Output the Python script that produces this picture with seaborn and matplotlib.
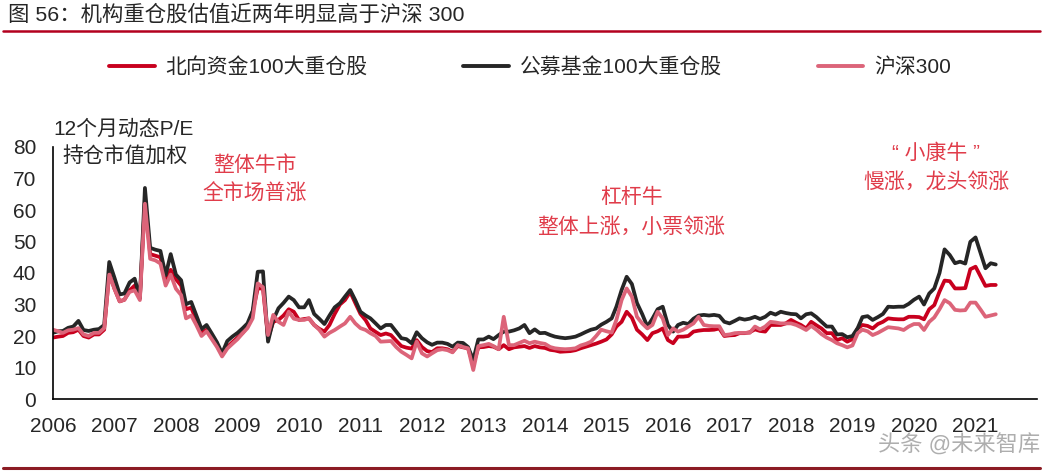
import pandas as pd
import seaborn as sns
import matplotlib.pyplot as plt
from matplotlib.lines import Line2D

sns.set_style('white')
plt.rcParams['font.family'] = ['Liberation Sans', 'Noto Sans CJK SC']

W, H = 1055, 473

# monthly 12m forward P/E, 2006-01 .. 2021-05
months = pd.date_range('2006-01-01', periods=185, freq='MS')

north = (  # 北向资金100大重仓股
    [19.5, 19.8, 20, 21, 21.2, 22, 20, 19.5, 20.5, 20.5, 22, 40]
    + [35, 31, 31.5, 34.5, 36, 32, 63.5, 46, 45.5, 45, 38, 41]
    + [38, 36, 28.5, 29, 25, 21, 22, 19.5, 17, 14, 16.5, 18]
    + [19.5, 21, 23, 27.7, 35.1, 35.1, 19.3, 24.5, 25.1, 26.5, 28.5, 27.7]
    + [25.1, 25.4, 25.6, 23.5, 22.3, 21.4, 23.5, 27, 30, 31.4, 34, 30.5]
    + [27, 25, 22.4, 21.3, 20.3, 20.8, 20.3, 18.5, 16.8, 16.3, 16, 18.7]
    + [16.5, 15.2, 14.9, 16.1, 16.1, 15.8, 15, 16.8, 16.4, 16.1, 11, 16.4]
    + [16.5, 16.8, 16.6, 15.8, 17.1, 15.8, 16.4, 16.6, 16.8, 16.2, 16.8, 16.4]
    + [16.2, 15.6, 15.4, 15, 15.1, 15.2, 15.5, 16.1, 16.6, 17.1, 17.6, 18.2]
    + [18.9, 20.5, 23, 24.5, 27.7, 25.8, 22, 20.5, 18.7, 20.9, 21.5, 22.4]
    + [18.7, 17.7, 19.8, 19.8, 20, 21.4, 21.7, 21.9, 21.9, 22, 22.4, 20]
    + [20.2, 20.3, 20.9, 20.9, 21.2, 22.1, 21.6, 21.4, 23.5, 23.5, 23.5, 24]
    + [25.1, 24.2, 23.5, 22.4, 24.5, 23.4, 22.4, 20.9, 20.9, 18.7, 19.3, 18.2]
    + [19, 22.4, 23.5, 23.2, 22.4, 23.8, 24.5, 25.6, 25.4, 25.3, 25.3, 26.1]
    + [26.1, 26, 25.3, 28.5, 29.8, 34.1, 37.6, 37.4, 35.1, 35.1, 35.2, 41.2]
    + [42, 38.8, 35.9, 36.2, 36.2]
)

fund = (  # 公募基金100大重仓股
    [21, 21.5, 21.6, 22.6, 23, 24.8, 21.9, 21.6, 22, 22.2, 23.5, 43.5]
    + [38.5, 33.2, 33.5, 37, 38.2, 32, 67, 48, 47.4, 47, 39.3, 46]
    + [39.5, 37.7, 30.1, 30.8, 26.6, 22.2, 23.5, 20.8, 18, 14.5, 18.4, 19.8]
    + [21, 22.5, 24, 28, 40.4, 40.5, 18.2, 25.1, 28.8, 30.5, 32.5, 31.4]
    + [29.1, 29.1, 31.4, 27, 25.5, 23.8, 26.5, 29.1, 30.4, 32.5, 34.6, 31.4]
    + [27.7, 26.5, 25.6, 24, 22.4, 23.5, 23.5, 21.4, 19.3, 19, 17.7, 21.2]
    + [19.3, 18, 17.2, 17.9, 17.9, 17.5, 16.6, 17.9, 17.8, 16.5, 12.4, 18.9]
    + [18.9, 19.8, 19, 20.3, 21.4, 21.4, 21.8, 22.4, 23.5, 20.9, 22.1, 20.9]
    + [21, 20.3, 19.8, 19.5, 19.3, 19.5, 19.8, 20.5, 21.3, 22, 22.4, 23.6]
    + [24.5, 25.6, 29.3, 34.6, 38.8, 36.5, 30.5, 27, 23, 25.5, 28.5, 29.3]
    + [23.5, 21.4, 23.5, 24.2, 23.8, 25.5, 26.5, 26.7, 26.5, 26.7, 26.4, 24.5]
    + [24, 24.8, 25.6, 25.2, 25.5, 26.1, 25.4, 26.1, 27.4, 26.8, 27.7, 27.3]
    + [27, 26.9, 25.6, 26.9, 27.2, 26, 24.5, 23, 23, 20.5, 20.6, 19.6]
    + [20, 22.5, 26, 26.3, 25.1, 26, 27, 29.3, 29.2, 29.3, 29.3, 30.2]
    + [31.5, 32.5, 30, 33.5, 35.1, 40, 47.5, 45.7, 43.1, 43.6, 43, 49.9]
    + [51.3, 46.2, 41.5, 43.1, 42.7]
)

hs300 = (  # 沪深300
    [22, 21.5, 21, 21.8, 22, 22.5, 20.5, 20, 21, 21, 22.5, 39.5]
    + [35, 31, 31.5, 34, 34.5, 31.4, 62, 44.5, 44, 43, 36, 39.5]
    + [35, 33, 25.6, 26.5, 23.5, 20, 21.5, 19, 16.5, 13.5, 16, 17.5]
    + [19, 20.9, 22.5, 25.6, 36.7, 35.5, 20.3, 26.7, 24.5, 23.5, 27.7, 25.5]
    + [25.1, 25.1, 25.6, 23.5, 22, 19.8, 21, 21.9, 23, 24, 26.1, 24]
    + [22.5, 21.9, 20.9, 20, 18.2, 18.3, 18.4, 16.5, 15, 14, 12.9, 18.2]
    + [14.5, 13.5, 14.5, 15.5, 15.8, 15.5, 14.8, 17.1, 16.5, 16.1, 9.2, 16.8]
    + [17.1, 17.5, 16.8, 15.8, 26.1, 17.1, 17.1, 17.8, 18.5, 17.7, 18.2, 17.8]
    + [17.5, 16.5, 16.1, 15.9, 15.8, 15.9, 16.1, 17, 17.5, 18.2, 20, 22]
    + [21.5, 21.1, 25.1, 31.4, 35.1, 32.5, 26.1, 24, 22.4, 23.5, 27.7, 25.6]
    + [20.3, 22.4, 21.4, 22, 23, 24, 26.1, 23.5, 23.2, 23.1, 23.1, 20.3]
    + [20.5, 20.9, 21, 21, 21, 23, 22.1, 23, 24.5, 24.3, 24, 24]
    + [24, 23.5, 22.8, 21.9, 23.2, 22, 20.6, 19.5, 18.7, 17.7, 17.1, 16.4]
    + [17, 20.9, 22, 21.5, 20.3, 21, 21.9, 22.8, 22.6, 22.4, 21.9, 23]
    + [23.8, 23.8, 21.9, 24.5, 25.9, 28.5, 31.4, 30.4, 28.3, 28.1, 28.2, 30.6]
    + [30.6, 28.3, 26.1, 26.5, 26.9]
)

names = ['北向资金100大重仓股', '公募基金100大重仓股', '沪深300']
colors = ['#C8001E', '#262626', '#DC6479']
years = list(range(2006, 2022))

df = pd.DataFrame({'date': months, names[0]: north, names[1]: fund, names[2]: hs300})
long = df.melt(id_vars='date', var_name='series', value_name='pe')

fig = plt.figure(figsize=(W / 100, H / 100), dpi=100)
ax = fig.add_axes([53 / W, 1 - 399 / H, (1037 - 53) / W, (399 - 147) / H])

sns.lineplot(data=long, x='date', y='pe', hue='series', hue_order=names,
             palette=colors, linewidth=2.7, ax=ax, legend=False)

ax.set_xlim(pd.Timestamp('2006-01-01'), pd.Timestamp('2022-01-01'))
ax.set_ylim(0, 80)
ax.set_yticks(range(0, 81, 10))
ax.set_xticks([pd.Timestamp(f'{y}-01-01') for y in years])
ax.set_xticklabels([str(y) for y in years])
ax.set_xlabel('')
ax.set_ylabel('')
ax.tick_params(axis='x', direction='in', length=6, width=1, pad=13, labelsize=15)
ax.tick_params(axis='y', direction='in', length=5, width=1, pad=12, labelsize=15)
for s in ['top', 'right']:
    ax.spines[s].set_visible(False)
for s in ['left', 'bottom']:
    ax.spines[s].set_color('black')
    ax.spines[s].set_linewidth(1.2)

# legend
handles = [Line2D([], [], color=c, lw=2.8) for c in colors]
fig.legend(handles, names, loc='center', bbox_to_anchor=(530 / W, 1 - 67 / H),
           ncol=3, frameon=False, fontsize=15, handlelength=2.2,
           handletextpad=0.5, columnspacing=4.6)


def ftext(x, y, s, **kw):
    fig.text(x / W, 1 - y / H, s, **kw)


# title + rules
ftext(8, 15, '图 56：机构重仓股估值近两年明显高于沪深 300', fontsize=15.4, va='center')
fig.add_artist(Line2D([0.003, 1040 / W], [1 - 31 / H] * 2, color='#B3001E', lw=1.8))
fig.add_artist(Line2D([0.003, 1040 / W], [1 - 468 / H] * 2, color='#8C1C24', lw=2.2))

# y caption
ftext(53, 129, '12个月动态P/E', fontsize=15, va='center')
ftext(62, 157, '持仓市值加权', fontsize=15, va='center')

# annotations
red = '#E03C4A'
ftext(255, 165, '整体牛市', fontsize=15, color=red, ha='center', va='center')
ftext(255, 194, '全市场普涨', fontsize=15, color=red, ha='center', va='center')
ftext(631, 197, '杠杆牛', fontsize=15, color=red, ha='center', va='center')
ftext(631, 227, '整体上涨，小票领涨', fontsize=15, color=red, ha='center', va='center')
ftext(936, 153, '“ 小康牛 ”', fontsize=15, color=red, ha='center', va='center')
ftext(936, 182, '慢涨，龙头领涨', fontsize=15, color=red, ha='center', va='center')

# watermark
ftext(1040, 446, '头条 @未来智库', fontsize=16, color='#9a9a9a', alpha=0.8,
      ha='right', va='center')

fig.savefig('out.png', dpi=100)
